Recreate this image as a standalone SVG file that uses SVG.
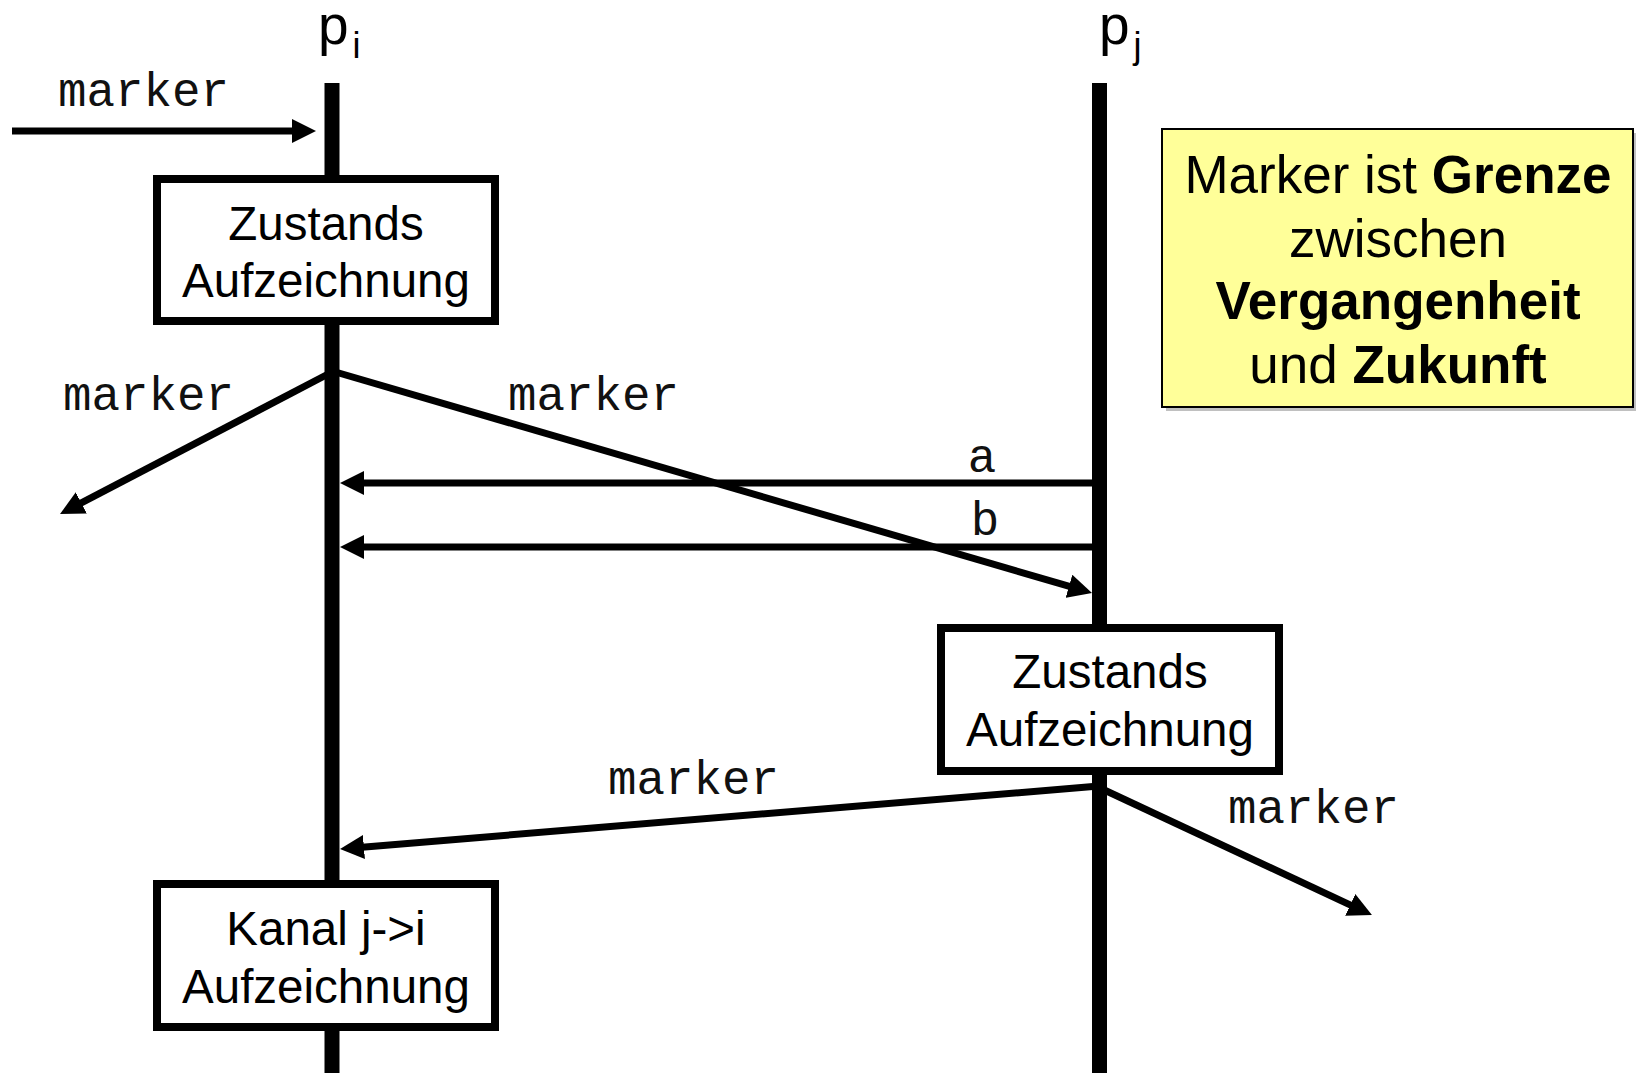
<svg xmlns="http://www.w3.org/2000/svg" width="1636" height="1073" viewBox="0 0 1636 1073">
<style>
.life{stroke:#000;stroke-width:15;fill:none}
.conn{stroke:#000;stroke-width:7;fill:none;marker-end:url(#arr)}
.box{fill:#fff;stroke:#000;stroke-width:8}
.bt{font-family:"Liberation Sans",Arial,sans-serif;font-size:47.5px;fill:#000;text-anchor:middle}
.mono{font-family:"Liberation Mono","Courier New",monospace;font-size:47.5px;fill:#111}
.proc{font-family:"Liberation Sans",Arial,sans-serif;font-size:55px;fill:#000}
.note{font-family:"Liberation Sans",Arial,sans-serif;font-size:53px;fill:#000;text-anchor:middle}
</style>
<defs>
<marker id="arr" markerUnits="userSpaceOnUse" markerWidth="24" markerHeight="24" refX="14" refY="12" orient="auto">
<path d="M0,0 L24,12 L0,24 z" fill="#000"/>
</marker>
</defs>
<rect width="1636" height="1073" fill="#fff"/>
<g id="connectors">
<line class="conn" x1="12" y1="131" x2="306" y2="131"/>
<line class="conn" x1="332" y1="372" x2="68.9" y2="509.4"/>
<line class="conn" x1="332" y1="371" x2="1082.4" y2="590.2"/>
<line class="conn" x1="1099" y1="483" x2="350" y2="483"/>
<line class="conn" x1="1099" y1="547" x2="350" y2="547"/>
<line class="conn" x1="1099" y1="786" x2="350" y2="848.2"/>
<line class="conn" x1="1100" y1="788" x2="1362.9" y2="910.8"/>
<text class="mono" x="58" y="106">marker</text>
<text class="mono" x="63" y="410">marker</text>
<text class="mono" x="508" y="410">marker</text>
<text class="mono" x="982" y="472" text-anchor="middle">a</text>
<text class="mono" x="985" y="535" text-anchor="middle">b</text>
<text class="mono" x="608" y="794">marker</text>
<text class="mono" x="1228" y="823">marker</text>
</g>
<g id="pi">
<line class="life" x1="332" y1="83" x2="332" y2="1073"/>
<text class="proc" x="318" y="44">p<tspan font-size="36" dx="4" dy="14">i</tspan></text>
</g>
<g id="pj">
<line class="life" x1="1099.5" y1="83" x2="1099.5" y2="1073"/>
<text class="proc" x="1099" y="44">p<tspan font-size="36" dx="4" dy="14">j</tspan></text>
</g>
<g id="state-i">
<rect class="box" x="157" y="179" width="338" height="142"/>
<text class="bt" x="326" y="240">Zustands</text>
<text class="bt" x="326" y="297">Aufzeichnung</text>
</g>
<g id="state-j">
<rect class="box" x="941" y="628" width="338" height="143"/>
<text class="bt" x="1110" y="688">Zustands</text>
<text class="bt" x="1110" y="746">Aufzeichnung</text>
</g>
<g id="channel">
<rect class="box" x="157" y="884" width="338" height="143"/>
<text class="bt" x="326" y="945">Kanal j-&gt;i</text>
<text class="bt" x="326" y="1003">Aufzeichnung</text>
</g>
<g id="note">
<rect x="1166" y="133" width="471" height="278" fill="#c0c0c0"/>
<rect x="1162" y="129" width="471" height="278" fill="#ffff99" stroke="#000" stroke-width="2"/>
<text class="note" x="1398" y="193">Marker ist <tspan font-weight="bold">Grenze</tspan></text>
<text class="note" x="1398" y="257">zwischen</text>
<text class="note" x="1398" y="319" font-weight="bold">Vergangenheit</text>
<text class="note" x="1398" y="383">und <tspan font-weight="bold">Zukunft</tspan></text>
</g>
</svg>
